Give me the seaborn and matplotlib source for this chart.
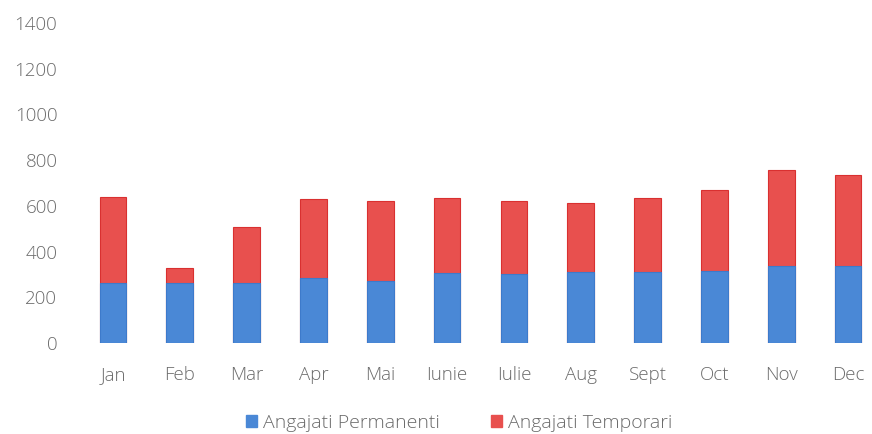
import numpy as np
import pandas as pd
import matplotlib
matplotlib.use("Agg")
import matplotlib.pyplot as plt
from matplotlib.patches import Patch
import seaborn as sns

# data
months = ["Jan", "Feb", "Mar", "Apr", "Mai", "Iunie", "Iulie", "Aug", "Sept", "Oct", "Nov", "Dec"]
permanenti = [262, 262, 262, 283, 270, 305, 303, 312, 312, 315, 337, 337]
temporari = [378, 65, 247, 349, 351, 328, 318, 302, 324, 354, 418, 400]
yticks = [0, 200, 400, 600, 800, 1000, 1200, 1400]

sns.set_theme(style="white")
plt.rcParams["font.family"] = ["Open Sans", "DejaVu Sans"]
plt.rcParams["font.weight"] = "light"

blue = "#4a88d6"
red = "#e8504e"
textcol = "#6b6b6b"

df = pd.DataFrame({"luna": months, "perm": permanenti, "temp": temporari})
df["total"] = df["perm"] + df["temp"]

fig = plt.figure(figsize=(8.72, 4.34), dpi=100)
ax = fig.add_axes([79.6 / 872, 91 / 434, 801.8 / 872, 320 / 434])

sns.barplot(data=df, x="luna", y="total", color=red, width=0.40, ax=ax,
            saturation=1, edgecolor="#d93030", linewidth=0.8)
sns.barplot(data=df, x="luna", y="perm", color=blue, width=0.40, ax=ax,
            saturation=1, edgecolor="#3d7acb", linewidth=0.8)

ax.set_ylim(0, 1400)
ax.set_yticks(yticks)
ax.set_xlim(-0.5, len(months) - 0.5)
ax.set_xlabel("")
ax.set_ylabel("")
for s in ax.spines.values():
    s.set_visible(False)
ax.tick_params(axis="y", length=0, pad=16, labelsize=13.5, labelcolor=textcol)
ax.tick_params(axis="x", length=0, pad=16.5, labelsize=13.5, labelcolor=textcol)
for t in ax.get_xticklabels() + ax.get_yticklabels():
    t.set_fontweight("light")

handles = [Patch(facecolor=blue, edgecolor=blue, label="Angajati Permanenti"),
           Patch(facecolor=red, edgecolor=red, label="Angajati Temporari")]
fig.legend(handles=handles, loc="center", bbox_to_anchor=(459 / 872, 1 - 423 / 434),
           ncol=2, frameon=False, prop={"size": 14, "weight": "light"},
           handlelength=0.6, handleheight=0.6,
           handletextpad=0.3, columnspacing=2.6, labelcolor=textcol)

fig.savefig("out.png", dpi=100)
